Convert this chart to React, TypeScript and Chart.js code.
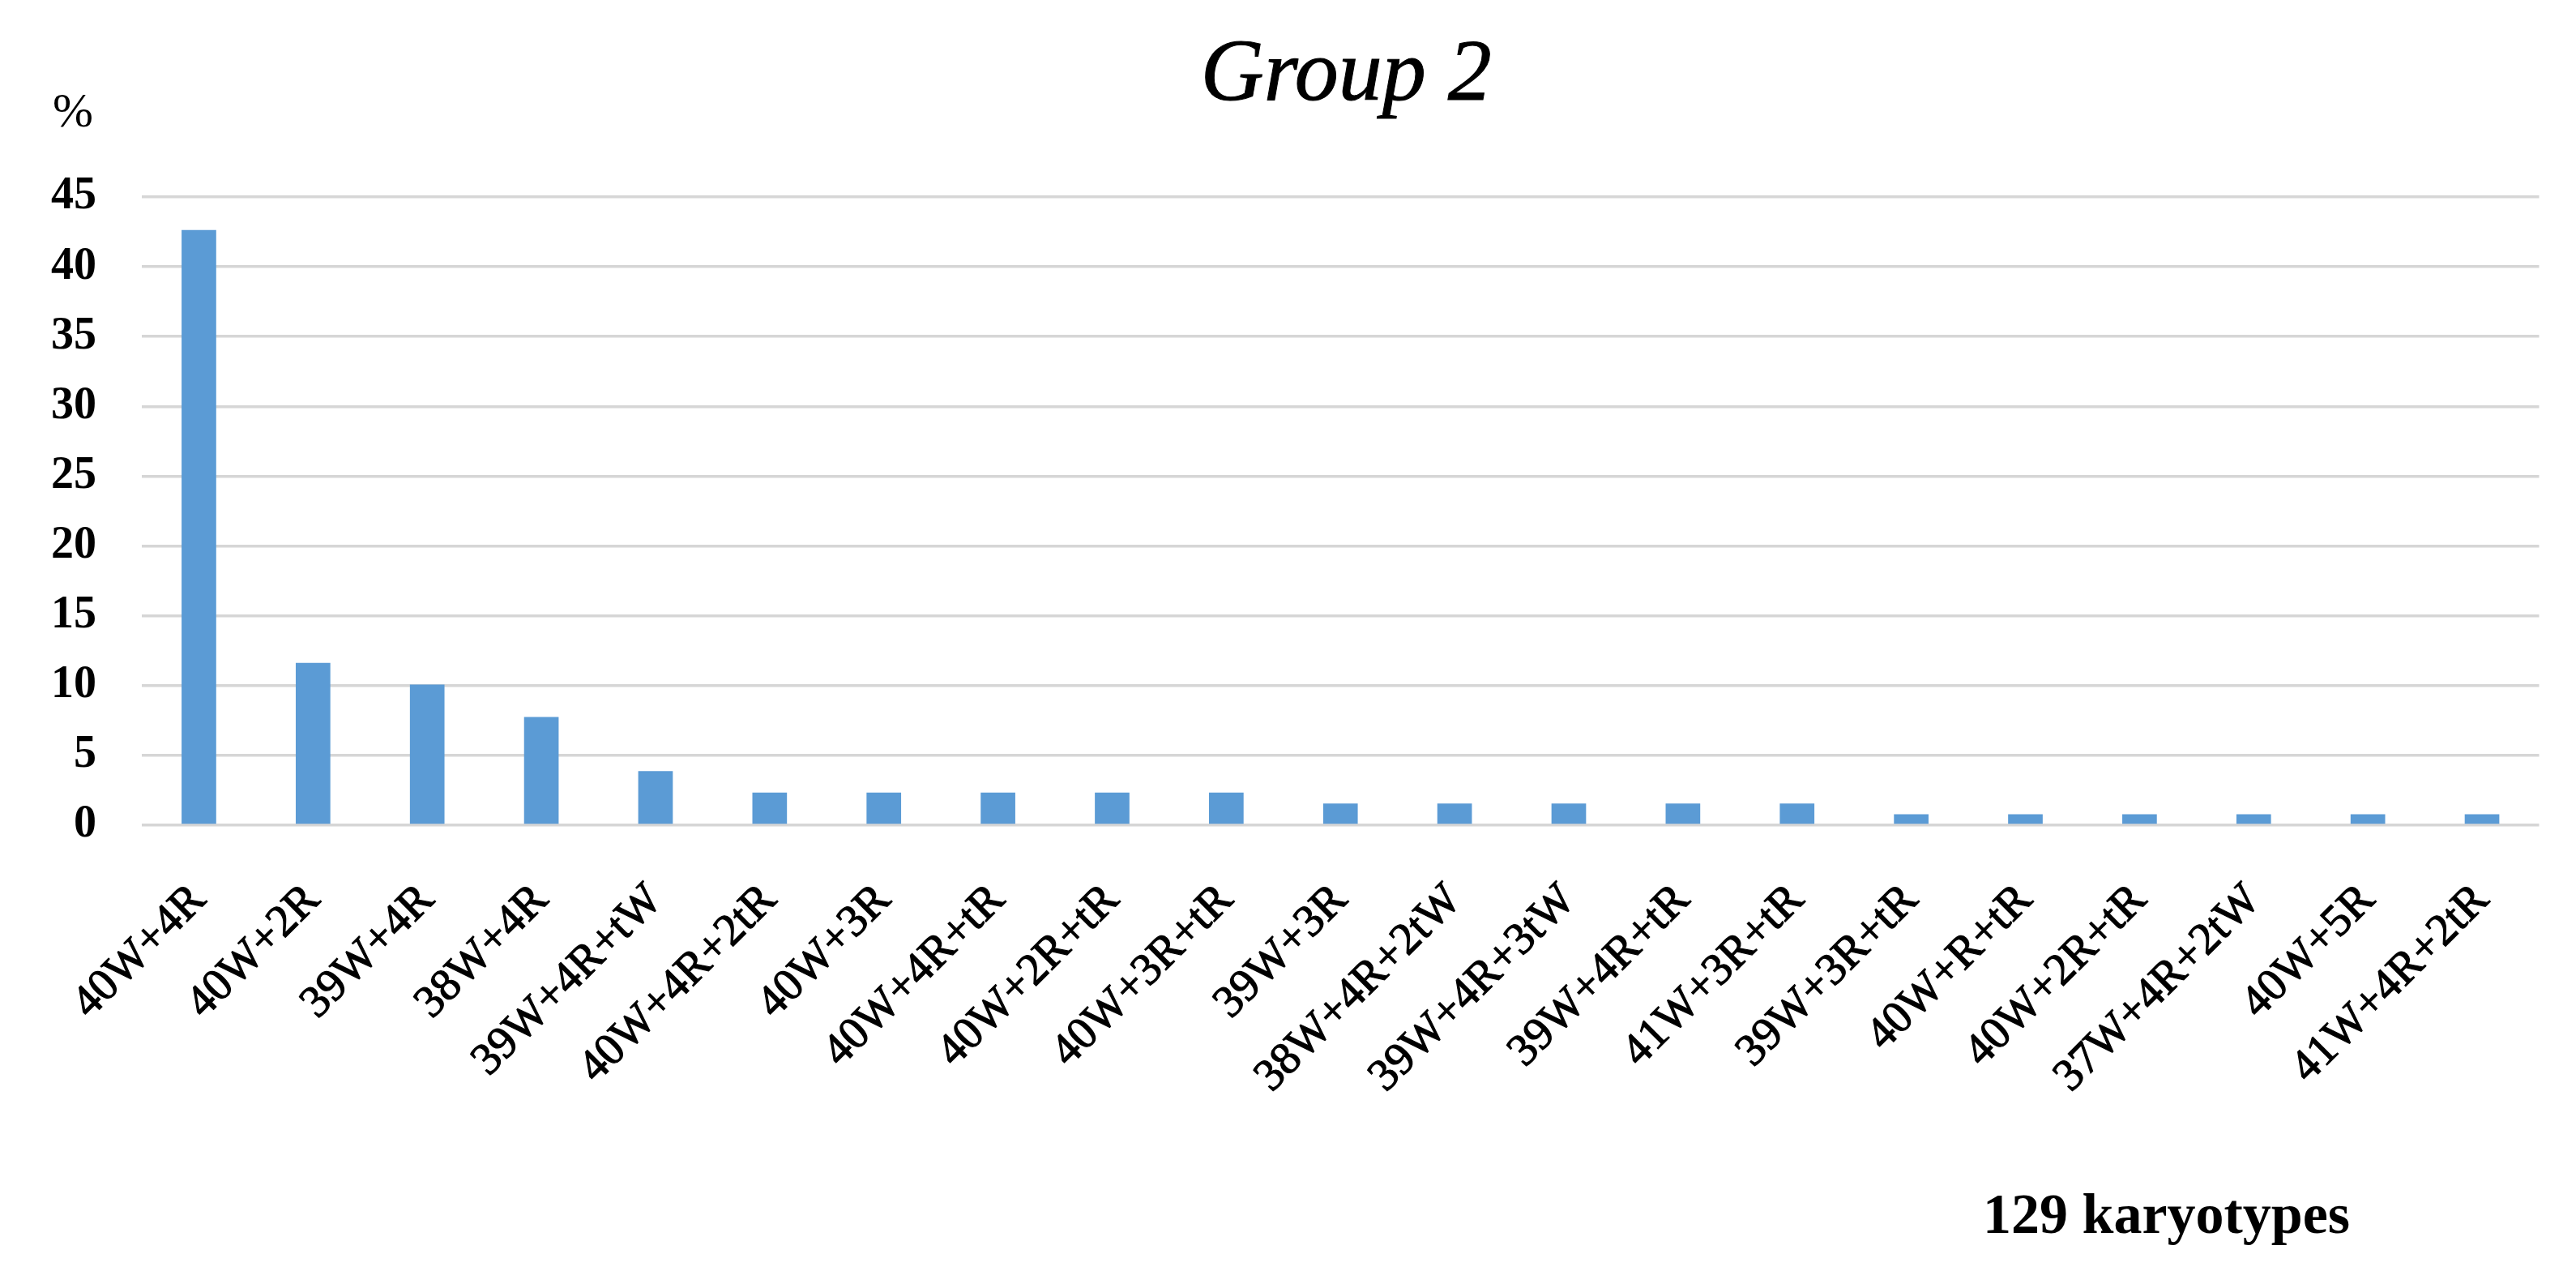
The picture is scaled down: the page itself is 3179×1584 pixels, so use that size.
import React, { useEffect, useRef } from "react";
import { Chart, registerables } from "chart.js";

Chart.register(...registerables);

const categories = [
  "40W+4R", "40W+2R", "39W+4R", "38W+4R", "39W+4R+tW", "40W+4R+2tR", "40W+3R",
  "40W+4R+tR", "40W+2R+tR", "40W+3R+tR", "39W+3R", "38W+4R+2tW", "39W+4R+3tW",
  "39W+4R+tR", "41W+3R+tR", "39W+3R+tR", "40W+R+tR", "40W+2R+tR", "37W+4R+2tW",
  "40W+5R", "41W+4R+2tR",
];

const percentValues = [
  42.64, 11.63, 10.08, 7.75, 3.88, 2.33, 2.33, 2.33, 2.33, 2.33, 1.55, 1.55, 1.55,
  1.55, 1.55, 0.78, 0.78, 0.78, 0.78, 0.78, 0.78,
];

const yTicks = [0, 5, 10, 15, 20, 25, 30, 35, 40, 45];

const titleText = "Group 2";
const yUnitText = "%";
const noteText = "129 karyotypes";

const W = 3163;
const H = 1568;

export default function App() {
  const ref = useRef<HTMLCanvasElement | null>(null);

  useEffect(() => {
    if (!ref.current) return;
    const textPlugin = {
      id: "extraText",
      afterDraw(chart: any) {
        const ctx = chart.ctx;
        const area = chart.chartArea;
        ctx.save();
        ctx.fillStyle = "#000";
        ctx.strokeStyle = "#000";
        ctx.textAlign = "center";
        ctx.textBaseline = "alphabetic";
        ctx.font = "italic 108px 'Liberation Serif'";
        ctx.lineWidth = 1;
        ctx.fillText(titleText, (area.left + area.right) / 2 + 7, 115);
        ctx.strokeText(titleText, (area.left + area.right) / 2 + 7, 115);
        ctx.font = "60px 'Liberation Serif'";
        ctx.fillText(yUnitText, 82, 148);
        ctx.textAlign = "left";
        ctx.font = "bold 70px 'Liberation Serif'";
        ctx.fillText(noteText, 2439, 1513);
        ctx.restore();
      },
    };

    const chart = new Chart(ref.current, {
      type: "bar",
      data: {
        labels: categories,
        datasets: [
          {
            data: percentValues,
            backgroundColor: "#5b9bd5",
            borderWidth: 0,
            barPercentage: 0.303,
            categoryPercentage: 1,
          },
        ],
      },
      options: {
        responsive: false,
        animation: false,
        layout: { padding: { top: 235, right: 19, left: 0, bottom: 0 } },
        plugins: {
          legend: { display: false },
          title: { display: false },
          tooltip: { enabled: false },
        },
        scales: {
          x: {
            grid: { display: false, drawTicks: false },
            border: { display: false },
            ticks: {
              color: "#000",
              font: { family: "'Liberation Serif'", size: 56 },
              textStrokeColor: "#000",
              textStrokeWidth: 1.2,
              maxRotation: 45,
              minRotation: 45,
              autoSkip: false,
              padding: 60,
            },
            afterFit(scale: any) {
              scale.height = H - 1010;
            },
          },
          y: {
            min: 0,
            max: 45,
            afterBuildTicks(scale: any) {
              scale.ticks = yTicks.map((v) => ({ value: v }));
            },
            grid: { color: "#d6d6d6", lineWidth: 3.5, drawTicks: false },
            border: { display: false },
            ticks: {
              color: "#000",
              font: { family: "'Liberation Serif'", size: 56, weight: "bold" },
              padding: 56,
            },
            afterFit(scale: any) {
              scale.width = 167;
            },
          },
        },
      },
      plugins: [textPlugin],
    });
    return () => chart.destroy();
  }, []);

  return (
    <div style={{ width: W, height: H }}>
      <canvas ref={ref} width={W} height={H} style={{ width: W, height: H, display: "block" }} />
    </div>
  );
}
